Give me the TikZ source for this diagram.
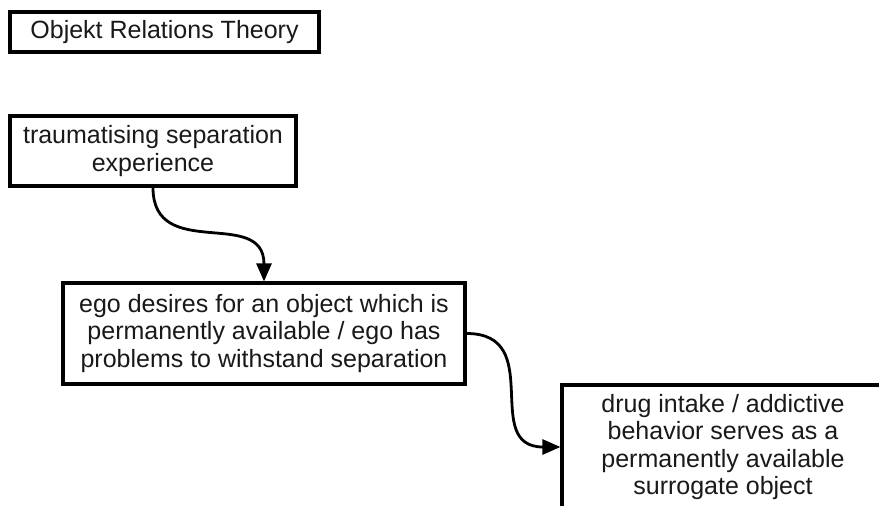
\documentclass[tikz,border=0pt]{standalone}
\usepackage{fontspec}
\setmainfont{Liberation Sans}
\usetikzlibrary{arrows.meta}
\begin{document}
\begin{tikzpicture}[x=1pt,y=-1pt,
  box/.style={draw=black, line width=3.2pt, align=center, inner sep=0pt,
    font=\fontsize{25}{27.5}\selectfont, text=black!90},
  link/.style={line width=2.8pt, -{Triangle[length=18pt,width=15pt]}}]
  \clip (0,0) rectangle (879,506);
  \fill[white] (0,0) rectangle (879,506);

  \node[box, minimum width=309pt, minimum height=40pt] (title) at (164.5,32)
    {Objekt Relations Theory};
  \node[box, minimum width=286pt, minimum height=70pt] (trauma) at (153,151)
    {traumatising separation\\experience};
  \node[box, minimum width=402pt, minimum height=101pt] (ego) at (264,333.5)
    {ego desires for an object which is\\permanently available / ego has\\problems to withstand separation};
  \node[box, minimum width=322pt, minimum height=124pt] (drug) at (723,447)
    {drug intake / addictive\\behavior serves as a\\permanently available\\surrogate object};

  \draw[link] (trauma.south) .. controls +(0,75) and +(0,-75) .. (ego.north);
  \draw[link] (ego.east) .. controls +(80,0) and +(-80,0) .. (drug.west);
\end{tikzpicture}
\end{document}
